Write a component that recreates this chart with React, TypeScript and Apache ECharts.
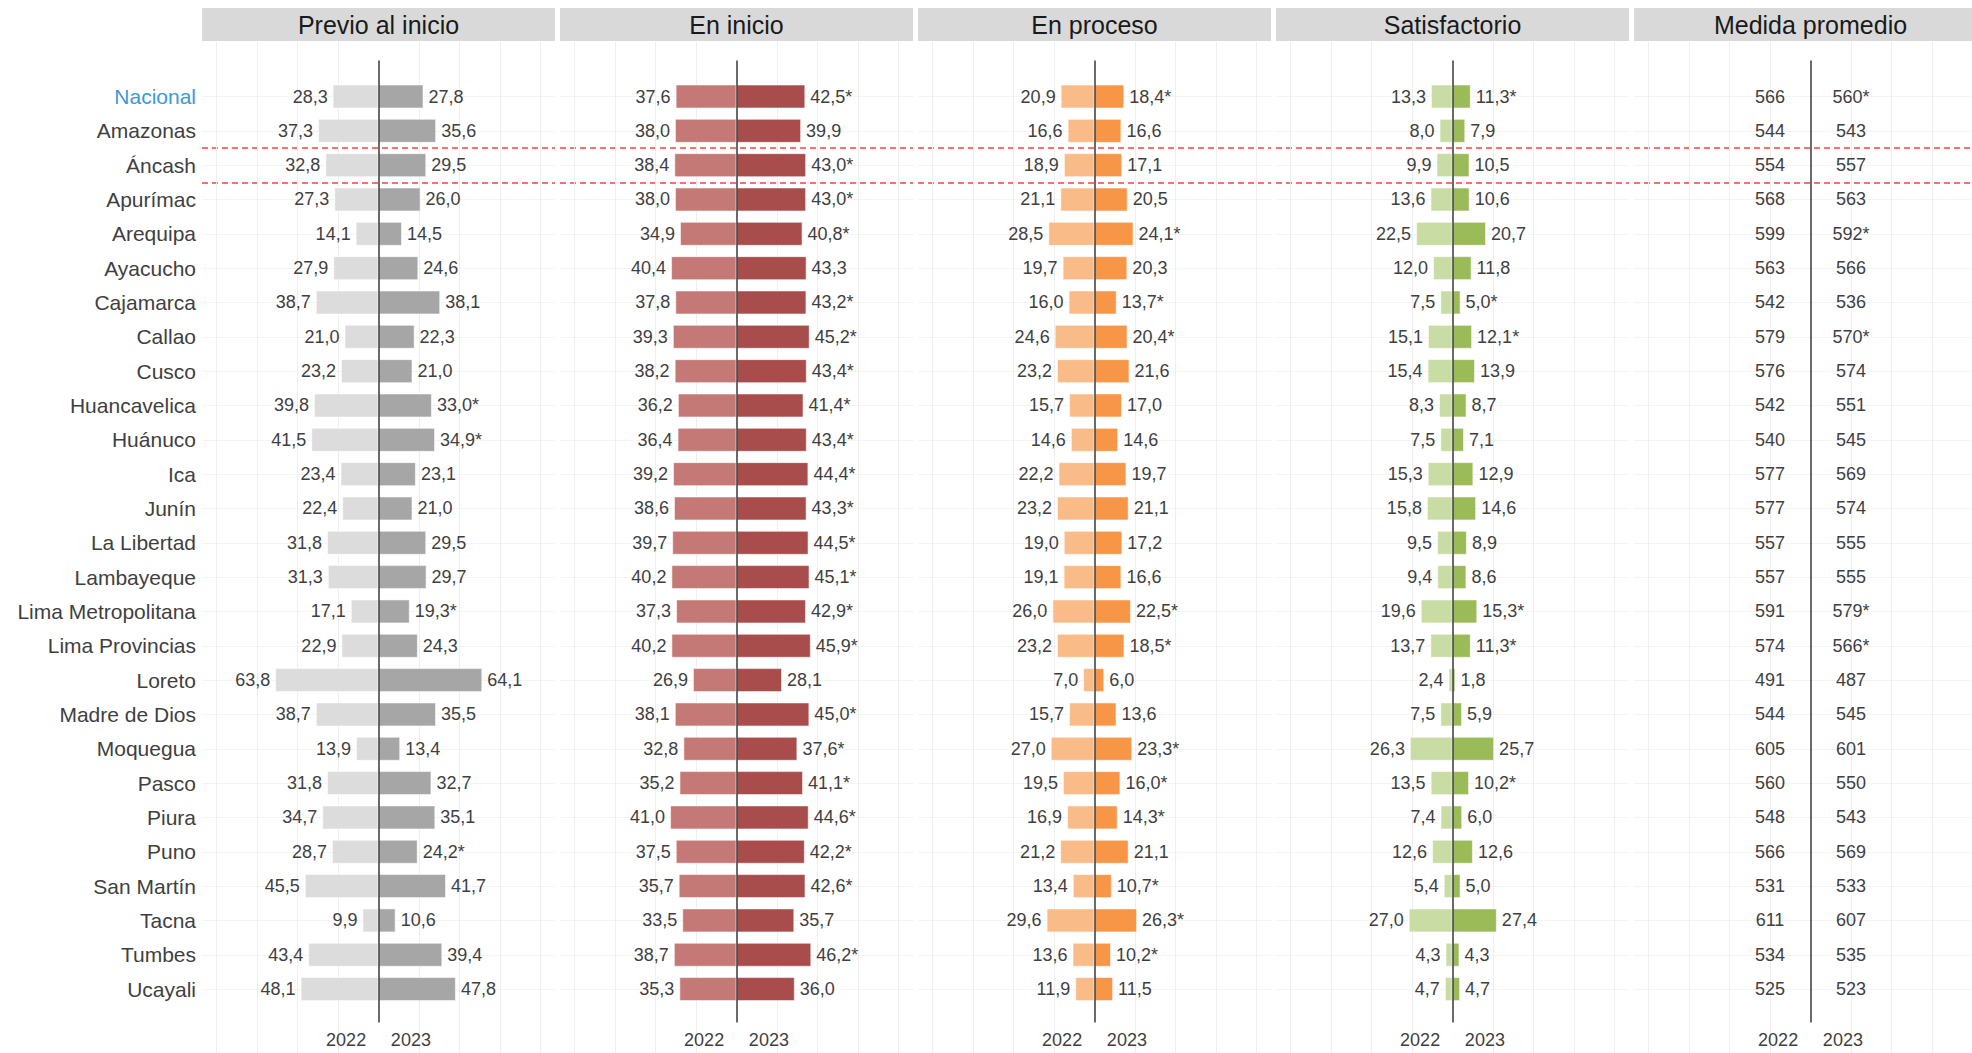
import React, { useEffect, useRef } from "react";
import * as echarts from "echarts";

// ---------------- DATA ----------------
const categories = [
  "Nacional", "Amazonas", "Áncash", "Apurímac", "Arequipa", "Ayacucho", "Cajamarca",
  "Callao", "Cusco", "Huancavelica", "Huánuco", "Ica", "Junín", "La Libertad",
  "Lambayeque", "Lima Metropolitana", "Lima Provincias", "Loreto", "Madre de Dios",
  "Moquegua", "Pasco", "Piura", "Puno", "San Martín", "Tacna", "Tumbes", "Ucayali",
];
const highlightCategory = "Nacional";
const boxedCategory = "Áncash";

const panelTitles = ["Previo al inicio", "En inicio", "En proceso", "Satisfactorio", "Medida promedio"];
const yearLabels = ["2022", "2023"];

const previo2022 = [28.3, 37.3, 32.8, 27.3, 14.1, 27.9, 38.7, 21.0, 23.2, 39.8, 41.5, 23.4, 22.4, 31.8, 31.3, 17.1, 22.9, 63.8, 38.7, 13.9, 31.8, 34.7, 28.7, 45.5, 9.9, 43.4, 48.1];
const previo2023 = [27.8, 35.6, 29.5, 26.0, 14.5, 24.6, 38.1, 22.3, 21.0, 33.0, 34.9, 23.1, 21.0, 29.5, 29.7, 19.3, 24.3, 64.1, 35.5, 13.4, 32.7, 35.1, 24.2, 41.7, 10.6, 39.4, 47.8];
const previoSig = [0, 0, 0, 0, 0, 0, 0, 0, 0, 1, 1, 0, 0, 0, 0, 1, 0, 0, 0, 0, 0, 0, 1, 0, 0, 0, 0];

const inicio2022 = [37.6, 38.0, 38.4, 38.0, 34.9, 40.4, 37.8, 39.3, 38.2, 36.2, 36.4, 39.2, 38.6, 39.7, 40.2, 37.3, 40.2, 26.9, 38.1, 32.8, 35.2, 41.0, 37.5, 35.7, 33.5, 38.7, 35.3];
const inicio2023 = [42.5, 39.9, 43.0, 43.0, 40.8, 43.3, 43.2, 45.2, 43.4, 41.4, 43.4, 44.4, 43.3, 44.5, 45.1, 42.9, 45.9, 28.1, 45.0, 37.6, 41.1, 44.6, 42.2, 42.6, 35.7, 46.2, 36.0];
const inicioSig = [1, 0, 1, 1, 1, 0, 1, 1, 1, 1, 1, 1, 1, 1, 1, 1, 1, 0, 1, 1, 1, 1, 1, 1, 0, 1, 0];

const proceso2022 = [20.9, 16.6, 18.9, 21.1, 28.5, 19.7, 16.0, 24.6, 23.2, 15.7, 14.6, 22.2, 23.2, 19.0, 19.1, 26.0, 23.2, 7.0, 15.7, 27.0, 19.5, 16.9, 21.2, 13.4, 29.6, 13.6, 11.9];
const proceso2023 = [18.4, 16.6, 17.1, 20.5, 24.1, 20.3, 13.7, 20.4, 21.6, 17.0, 14.6, 19.7, 21.1, 17.2, 16.6, 22.5, 18.5, 6.0, 13.6, 23.3, 16.0, 14.3, 21.1, 10.7, 26.3, 10.2, 11.5];
const procesoSig = [1, 0, 0, 0, 1, 0, 1, 1, 0, 0, 0, 0, 0, 0, 0, 1, 1, 0, 0, 1, 1, 1, 0, 1, 1, 1, 0];

const satis2022 = [13.3, 8.0, 9.9, 13.6, 22.5, 12.0, 7.5, 15.1, 15.4, 8.3, 7.5, 15.3, 15.8, 9.5, 9.4, 19.6, 13.7, 2.4, 7.5, 26.3, 13.5, 7.4, 12.6, 5.4, 27.0, 4.3, 4.7];
const satis2023 = [11.3, 7.9, 10.5, 10.6, 20.7, 11.8, 5.0, 12.1, 13.9, 8.7, 7.1, 12.9, 14.6, 8.9, 8.6, 15.3, 11.3, 1.8, 5.9, 25.7, 10.2, 6.0, 12.6, 5.0, 27.4, 4.3, 4.7];
const satisSig = [1, 0, 0, 0, 0, 0, 1, 1, 0, 0, 0, 0, 0, 0, 0, 1, 1, 0, 0, 0, 1, 0, 0, 0, 0, 0, 0];

const medida2022 = [566, 544, 554, 568, 599, 563, 542, 579, 576, 542, 540, 577, 577, 557, 557, 591, 574, 491, 544, 605, 560, 548, 566, 531, 611, 534, 525];
const medida2023 = [560, 543, 557, 563, 592, 566, 536, 570, 574, 551, 545, 569, 574, 555, 555, 579, 566, 487, 545, 601, 550, 543, 569, 533, 607, 535, 523];
const medidaSig = [1, 0, 0, 0, 1, 0, 0, 1, 0, 0, 0, 0, 0, 0, 0, 1, 1, 0, 0, 0, 0, 0, 0, 0, 0, 0, 0];

const gridTickValues = [-100, -75, -50, -25, 25, 50, 75, 100];
const yearTickValues = [-20, 20];

// ---------------- STYLE / LAYOUT ----------------
const FONT = "'Liberation Sans', Arial, Helvetica, sans-serif";
const W = 1972;
const H = 1053;
const PANEL_LEFT = 202;
const PANEL_STEP = 358;
const PANEL_W = 353;
const XMAX = 109;
const ROW0 = 96.5;
const ROW_STEP = 34.33;
const MEDIDA_OFFSET = 25;
const TEXT = "#3f3f3f";

const panelColors = [
  ["#DCDCDC", "#A6A6A6"],
  ["#C47977", "#A84C4C"],
  ["#F9BC88", "#F79646"],
  ["#C8DCA4", "#9BBB59"],
];
const panelData = [
  [previo2022, previo2023, previoSig],
  [inicio2022, inicio2023, inicioSig],
  [proceso2022, proceso2023, procesoSig],
  [satis2022, satis2023, satisSig],
];

const fmt = (v: number, sig: number) => v.toFixed(1).replace(".", ",") + (sig ? "*" : "");

function buildOption() {
  const grid: any[] = [];
  const xAxis: any[] = [];
  const yAxis: any[] = [];
  const series: any[] = [];
  const graphic: any[] = [];
  const n = categories.length;
  const hi = categories.indexOf(boxedCategory);

  const addGrid = (left: number, top: number, height: number) => {
    grid.push({ left, top, width: PANEL_W, height, containLabel: false, outerBoundsMode: "none" });
    return grid.length - 1;
  };

  for (let k = 0; k < panelTitles.length; k++) {
    const left = PANEL_LEFT + k * PANEL_STEP;

    // header strip
    graphic.push({
      type: "rect",
      shape: { x: left, y: 8, width: PANEL_W, height: 33 },
      style: { fill: "#D9D9D9" },
      silent: true,
    });
    graphic.push({
      type: "text",
      x: left + PANEL_W / 2,
      y: 25,
      style: {
        text: panelTitles[k],
        fontSize: 25,
        fontFamily: FONT,
        fill: "#1a1a1a",
        align: "center",
        verticalAlign: "middle",
      },
      silent: true,
    });

    // g0: background vertical gridlines
    const g0 = addGrid(left, 42, H - 42);
    xAxis.push({
      type: "value", gridIndex: g0, min: -XMAX, max: XMAX,
      axisLine: { show: false },
      axisTick: { show: false, customValues: gridTickValues },
      axisLabel: { show: false },
      splitLine: { show: true, lineStyle: { color: "#EEEEEE", width: 1 } },
    });
    yAxis.push({ type: "value", gridIndex: g0, min: 0, max: 1, show: false });

    // g1: row gridlines + year labels
    const g1 = addGrid(left, ROW0 - ROW_STEP, ROW_STEP * (n + 1));
    xAxis.push({
      type: "value", gridIndex: g1, min: -XMAX, max: XMAX,
      axisLine: { show: false },
      axisTick: { show: false },
      splitLine: { show: false },
      axisLabel: {
        show: true,
        customValues: yearTickValues,
        formatter: (v: number) => (v < 0 ? yearLabels[0] : yearLabels[1]),
        margin: 8,
        fontSize: 18,
        color: TEXT,
        fontFamily: FONT,
      },
    });
    yAxis.push({
      type: "value", gridIndex: g1, min: -1, max: n, inverse: true,
      axisLine: { show: false },
      axisTick: { show: false, customValues: categories.map((_, i) => i) },
      axisLabel: { show: false },
      splitLine: { show: true, lineStyle: { color: "#F4F4F4", width: 1 } },
    });

    // g4: red dashed lines around the highlighted region (band boundaries)
    const gD = addGrid(left, ROW0 - ROW_STEP, ROW_STEP * (n + 1));
    xAxis.push({ type: "value", gridIndex: gD, min: -XMAX, max: XMAX, show: false });
    yAxis.push({
      type: "value", gridIndex: gD, min: -1, max: n, inverse: true,
      axisLine: { show: false },
      axisTick: { show: false, customValues: [hi - 0.5, hi + 0.5] },
      axisLabel: { show: false },
      splitLine: { show: true, lineStyle: { type: [6, 4], color: "#FF6F6F", width: 2 } },
    });

    // g2: bars
    const g2 = addGrid(left, ROW0 - ROW_STEP / 2, ROW_STEP * n);
    xAxis.push({ type: "value", gridIndex: g2, min: -XMAX, max: XMAX, show: false });
    yAxis.push({
      type: "category", gridIndex: g2, data: categories, inverse: true,
      axisLine: { show: false },
      axisTick: { show: false },
      splitLine: { show: false },
      axisLabel: {
        show: k === 0,
        margin: 6,
        fontSize: 21,
        color: TEXT,
        fontFamily: FONT,
        formatter: (v: string) => (v === highlightCategory ? `{nac|${v}}` : v),
        rich: { nac: { color: "#3C9AD3", fontSize: 21, fontFamily: FONT } },
      },
    });

    if (k < 4) {
      const [a, b, sig] = panelData[k] as [number[], number[], number[]];
      const [c0, c1] = panelColors[k];
      const common = {
        type: "bar",
        xAxisIndex: g2,
        yAxisIndex: g2,
        barWidth: 24,
        barGap: "-100%",
        silent: true,
        emphasis: { disabled: true },
      };
      series.push({
        ...common,
        name: `${panelTitles[k]} ${yearLabels[0]}`,
        data: a.map((v) => -v),
        itemStyle: { color: c0, borderColor: "rgba(255,255,255,0.55)", borderWidth: 1 },
        label: {
          show: true, position: "left", distance: 5,
          fontSize: 18, color: TEXT, fontFamily: FONT,
          formatter: (p: any) => fmt(a[p.dataIndex], 0),
        },
      });
      series.push({
        ...common,
        name: `${panelTitles[k]} ${yearLabels[1]}`,
        data: b,
        itemStyle: { color: c1, borderColor: "rgba(255,255,255,0.55)", borderWidth: 1 },
        label: {
          show: true, position: "right", distance: 5,
          fontSize: 18, color: TEXT, fontFamily: FONT,
          formatter: (p: any) => fmt(b[p.dataIndex], sig[p.dataIndex]),
        },
      });
    } else {
      const mk = (arr: number[], sigArr: number[] | null, side: number, name: string) => ({
        type: "scatter",
        name,
        xAxisIndex: g2,
        yAxisIndex: g2,
        symbolSize: 1,
        itemStyle: { color: "rgba(0,0,0,0)" },
        silent: true,
        emphasis: { disabled: true },
        data: arr.map((_, i) => [side * MEDIDA_OFFSET, i]),
        label: {
          show: true, position: "inside",
          fontSize: 18, color: TEXT, fontFamily: FONT,
          textBorderWidth: 0, opacity: 1,
          formatter: (p: any) => String(arr[p.dataIndex]) + (sigArr && sigArr[p.dataIndex] ? "*" : ""),
        },
      });
      series.push(mk(medida2022, null, -1, `${panelTitles[k]} ${yearLabels[0]}`));
      series.push(mk(medida2023, medidaSig, 1, `${panelTitles[k]} ${yearLabels[1]}`));
    }

    // g3: central line on top
    const g3 = addGrid(left, 61, 961);
    xAxis.push({ type: "value", gridIndex: g3, min: -XMAX, max: XMAX, show: false });
    yAxis.push({
      type: "value", gridIndex: g3, min: 0, max: 1, z: 10,
      axisLine: { show: true, onZero: true, lineStyle: { color: "#383838", width: 1.5 } },
      axisTick: { show: false },
      axisLabel: { show: false },
      splitLine: { show: false },
    });
  }

  return {
    animation: false,
    backgroundColor: "#ffffff",
    textStyle: { fontFamily: FONT },
    grid,
    xAxis,
    yAxis,
    series,
    graphic,
  };
}

export default function App() {
  const ref = useRef<HTMLDivElement>(null);
  useEffect(() => {
    if (!ref.current) return;
    const chart = echarts.init(ref.current, undefined, { renderer: "svg" });
    chart.setOption(buildOption() as any);
    return () => chart.dispose();
  }, []);
  return (
    <div
      ref={ref}
      style={{ position: "absolute", left: 0, top: 0, width: W, height: H, background: "#fff" }}
    />
  );
}
